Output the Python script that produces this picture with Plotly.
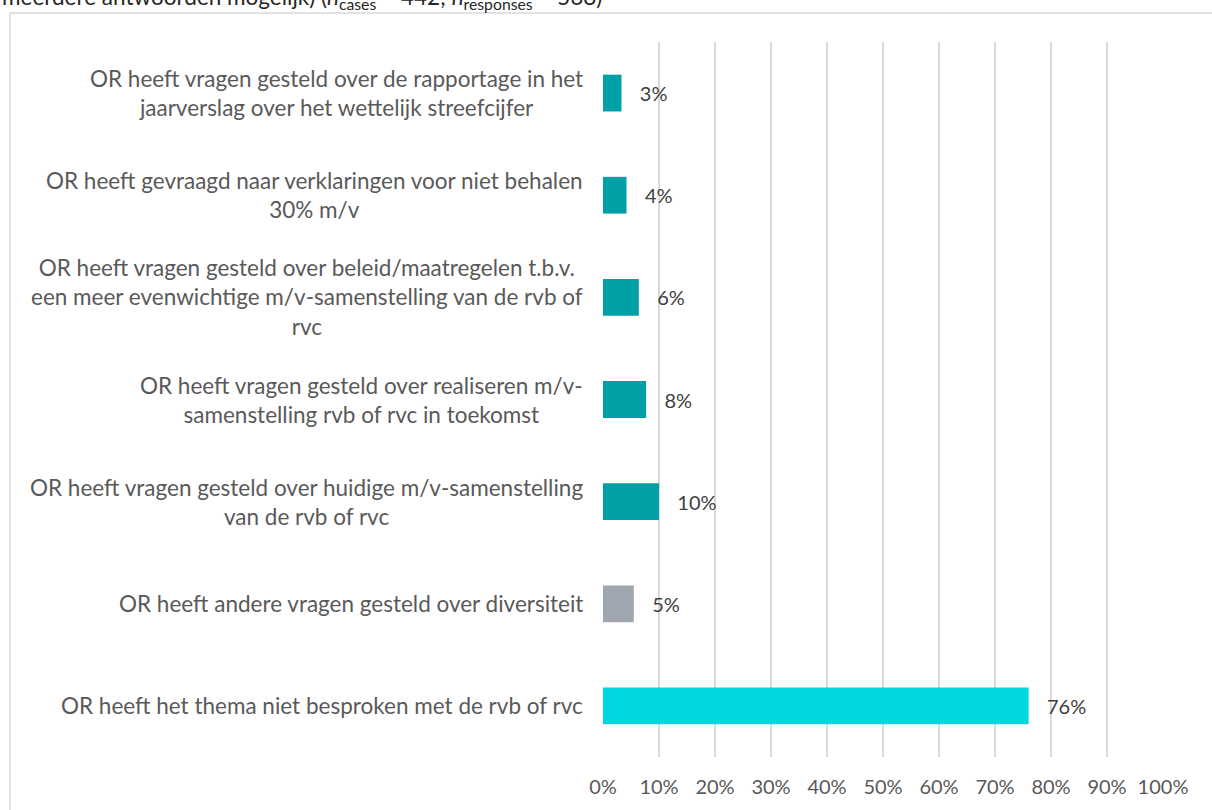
import plotly.graph_objects as go

categories = [
    "OR heeft vragen gesteld over de rapportage in het<br>jaarverslag over het wettelijk streefcijfer",
    "OR heeft gevraagd naar verklaringen voor niet behalen<br>30% m/v",
    "OR heeft vragen gesteld over beleid/maatregelen t.b.v.<br>een meer evenwichtige m/v-samenstelling van de rvb of<br>rvc",
    "OR heeft vragen gesteld over realiseren m/v-<br>samenstelling rvb of rvc in toekomst",
    "OR heeft vragen gesteld over huidige m/v-samenstelling<br>van de rvb of rvc",
    "OR heeft andere vragen gesteld over diversiteit",
    "OR heeft het thema niet besproken met de rvb of rvc",
]
values = [3.3, 4.2, 6.4, 7.7, 10.0, 5.5, 76.0]
value_labels = ["3%", "4%", "6%", "8%", "10%", "5%", "76%"]
bar_colors = ["#00A0A6", "#00A0A6", "#00A0A6", "#00A0A6", "#00A0A6", "#A0A6B0", "#00D6E0"]
x_ticks = [0, 10, 20, 30, 40, 50, 60, 70, 80, 90, 100]
x_tick_labels = [f"{t}%" for t in x_ticks]
title_text = ("meerdere antwoorden mogelijk) (<i>n</i><sub>cases</sub> = 442; "
              "<i>n</i><sub>responses</sub> = 568)")

W, H = 1212, 810
L, R, T, B = 603, 49, 42, 53
pw, ph = W - L - R, H - T - B

FONT = "Lato"

fig = go.Figure()
fig.add_trace(go.Bar(
    x=values,
    y=list(range(len(categories))),
    orientation="h",
    marker=dict(color=bar_colors, line=dict(width=0)),
    width=0.36,
    text=["\u00a0\u00a0\u00a0" + s for s in value_labels],
    textposition="outside",
    constraintext="none",
    cliponaxis=False,
    textfont=dict(family=FONT, size=20, color="#404040"),
    hoverinfo="skip",
))

annotations = []
for i, c in enumerate(categories):
    annotations.append(dict(
        x=0, xref="paper", y=i, yref="y",
        text=c, showarrow=False, xanchor="right", yanchor="middle",
        align="center", xshift=-18,
        font=dict(family=FONT, size=22.5, color="#595959"),
    ))
annotations.append(dict(
    x=0, xref="paper", y=1, yref="paper",
    text=title_text, showarrow=False, xanchor="left", yanchor="middle",
    xshift=-L, yshift=T + 2,
    font=dict(family=FONT, size=22.5, color="#262626"),
))

fig.update_layout(
    width=W, height=H,
    margin=dict(l=L, r=R, t=T, b=B, pad=0),
    paper_bgcolor="white", plot_bgcolor="white",
    showlegend=False,
    annotations=annotations,
    shapes=[dict(
        type="rect", xref="paper", yref="paper",
        x0=(10 - L) / pw, x1=(W + 5 - L) / pw,
        y0=(H - B - 13) / ph, y1=(H - B - (H + 5)) / ph,
        line=dict(color="#D9D9D9", width=1.5), fillcolor="rgba(0,0,0,0)",
        layer="below",
    )],
    xaxis=dict(
        range=[0, 100], tickvals=x_ticks, ticktext=x_tick_labels,
        showgrid=True, gridcolor="#D9D9D9", gridwidth=1.5,
        zeroline=False, showline=False, automargin=False,
        ticks="outside", ticklen=0, ticklabelstandoff=12,
        tickfont=dict(family=FONT, size=20, color="#595959"),
        fixedrange=True,
    ),
    yaxis=dict(
        range=[len(categories) - 0.5, -0.5], automargin=False,
        showticklabels=False, showgrid=False, zeroline=False,
        ticks="", fixedrange=True,
    ),
)

fig.write_html(
    "out.html",
    config={"displayModeBar": False},
    post_script="document.body.style.margin='0';document.body.style.overflow='hidden';",
)
